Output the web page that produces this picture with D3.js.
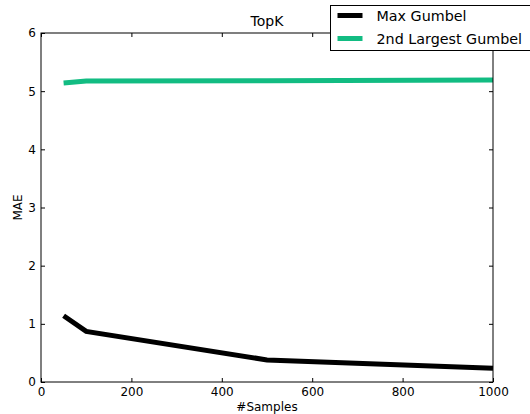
<!DOCTYPE html>
<html>
<head>
<meta charset="utf-8">
<script src="https://cdn.jsdelivr.net/npm/d3@7"></script>
<style>
  body { margin: 0; background: #fff; }
  text { font-family: "DejaVu Sans", sans-serif; fill: #000; }
</style>
</head>
<body>
<svg id="chart"></svg>
<script>
// data
const samples = [50, 100, 500, 1000];
const maxGumbel = [1.14, 0.87, 0.38, 0.235];
const secondGumbel = [5.14, 5.175, 5.18, 5.19];
const seriesNames = ["Max Gumbel", "2nd Largest Gumbel"];
const seriesColors = ["#000000", "#12bc82"];
const xTicks = [0, 200, 400, 600, 800, 1000];
const yTicks = [0, 1, 2, 3, 4, 5, 6];

const config = {
    containerWidth: 530,
    containerHeight: 414,
    margin: {top: 33, right: 37, bottom: 32, left: 41}
};

const width = config.containerWidth - config.margin.left - config.margin.right;
const height = config.containerHeight - config.margin.top - config.margin.bottom;

const svg = d3.select("#chart")
    .attr("width", config.containerWidth)
    .attr("height", config.containerHeight);

const chartArea = svg.append("g")
    .attr("transform", `translate(${config.margin.left},${config.margin.top})`);

const xScale = d3.scaleLinear().domain([0, 1000]).range([0, width]);
const yScale = d3.scaleLinear().domain([0, 6]).range([height, 0]);

// lines
const series = [maxGumbel, secondGumbel];
const line = d3.line()
    .x((d, i) => xScale(samples[i]))
    .y(d => yScale(d));

chartArea.selectAll(".series")
    .data(series)
    .join("path")
    .attr("class", "series")
    .attr("fill", "none")
    .attr("stroke", (d, i) => seriesColors[i])
    .attr("stroke-width", 5)
    .attr("d", line);

// axes, ticks pointing inward on all sides
function styleAxis(g) {
    g.attr("font-size", null).attr("font-family", null);
    g.select(".domain").remove();
    g.selectAll(".tick line").attr("stroke", "#000").attr("stroke-width", 1);
    g.selectAll(".tick text").style("font-size", "12px");
}

chartArea.append("g")
    .attr("transform", `translate(0,${height})`)
    .call(d3.axisBottom(xScale).tickValues(xTicks).tickSize(-4).tickPadding(5).tickFormat(d3.format("d")))
    .call(styleAxis);

chartArea.append("g")
    .call(d3.axisTop(xScale).tickValues(xTicks).tickSize(-4).tickFormat(""))
    .call(styleAxis);

chartArea.append("g")
    .call(d3.axisLeft(yScale).tickValues(yTicks).tickSize(-4).tickPadding(5).tickFormat(d3.format("d")))
    .call(styleAxis);

chartArea.append("g")
    .attr("transform", `translate(${width},0)`)
    .call(d3.axisRight(yScale).tickValues(yTicks).tickSize(-4).tickFormat(""))
    .call(styleAxis);

// frame
chartArea.append("rect")
    .attr("width", width)
    .attr("height", height)
    .attr("fill", "none")
    .attr("stroke", "#000")
    .attr("stroke-width", 1);

// titles
chartArea.append("text")
    .attr("x", width / 2)
    .attr("y", -7)
    .attr("text-anchor", "middle")
    .style("font-size", "14px")
    .text("TopK");

chartArea.append("text")
    .attr("x", width / 2)
    .attr("y", height + 29)
    .attr("text-anchor", "middle")
    .style("font-size", "12px")
    .text("#Samples");

chartArea.append("text")
    .attr("transform", `translate(-19,${height / 2}) rotate(-90)`)
    .attr("text-anchor", "middle")
    .style("font-size", "12px")
    .text("MAE");

// legend
const legend = svg.append("g").attr("transform", "translate(330.5,5.5)");
legend.append("rect")
    .attr("width", 210)
    .attr("height", 45)
    .attr("fill", "#fff")
    .attr("stroke", "#000")
    .attr("stroke-width", 1);

const items = legend.selectAll(".item")
    .data(seriesNames)
    .join("g")
    .attr("class", "item")
    .attr("transform", (d, i) => `translate(0,${10 + i * 23})`);

items.append("line")
    .attr("x1", 7).attr("x2", 32)
    .attr("y1", 0).attr("y2", 0)
    .attr("stroke", (d, i) => seriesColors[i])
    .attr("stroke-width", 5);

items.append("text")
    .attr("x", 46)
    .attr("y", 5)
    .style("font-size", "14.3px")
    .text(d => d);
</script>
</body>
</html>
